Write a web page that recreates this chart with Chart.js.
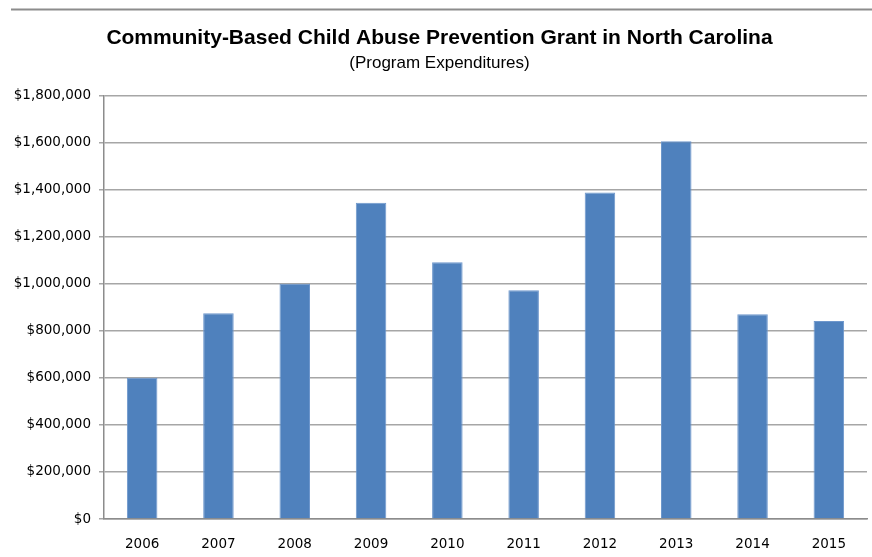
<!DOCTYPE html>
<html>
<head>
<meta charset="utf-8">
<script src="https://cdn.jsdelivr.net/npm/chart.js@4"></script>
<style>
html,body{margin:0;padding:0;background:#fff;}
</style>
</head>
<body>
<canvas id="grantChart" width="872" height="557"></canvas>
<script>
const years = ["2006","2007","2008","2009","2010","2011","2012","2013","2014","2015"];
const expenditures = [600000, 875000, 1000000, 1345000, 1092000, 973000, 1388000, 1606000, 870000, 842000];
const yTicks = [0, 200000, 400000, 600000, 800000, 1000000, 1200000, 1400000, 1600000, 1800000];

const titleText = "Community-Based Child Abuse Prevention Grant in North Carolina";
const subtitleText = "(Program Expenditures)";

// thin rule across the top, like the cropped chart border
const topRule = {
  id: 'topRule',
  beforeDraw(chart){
    const c = chart.ctx;
    c.save();
    c.fillStyle = '#fff';
    c.fillRect(0, 0, chart.width, chart.height);
    c.strokeStyle = '#8c8c8c';
    c.lineWidth = 2;
    c.beginPath();
    c.moveTo(11, 9.5);
    c.lineTo(chart.width, 9.5);
    c.stroke();
    c.restore();
  }
};

function money(v){
  return '$' + v.toLocaleString('en-US');
}

const ctx = document.getElementById("grantChart");

new Chart(ctx,{
  type:'bar',
  data:{
    labels:years,
    datasets:[{
      label:'Program Expenditures',
      data:expenditures,
      backgroundColor:'#4f81bd',
      borderColor:'#6e97cc',
      borderWidth:1,
      barPercentage:0.4,
      categoryPercentage:1.0
    }]
  },
  options:{
    responsive:false,
    animation:false,
    devicePixelRatio:1,
    layout:{padding:{left:12,right:5,top:0,bottom:0}},
    plugins:{
      legend:{display:false},
      tooltip:{enabled:false},
      title:{
        display:true,
        text:titleText,
        color:'#000',
        font:{family:'Liberation Sans',size:21,weight:'bold'},
        padding:{top:26,bottom:2}
      },
      subtitle:{
        display:true,
        text:subtitleText,
        color:'#000',
        font:{family:'Liberation Sans',size:17},
        padding:{top:0,bottom:22}
      }
    },
    scales:{
      x:{
        grid:{display:false,drawTicks:false},
        border:{color:'#8c8c8c',width:1.5},
        ticks:{color:'#000',font:{family:'DejaVu Sans',size:13.5},padding:17},
        afterFit(scale){ scale.height = 38; }
      },
      y:{
        min:0,
        max:1800000,
        afterBuildTicks(scale){ scale.ticks = yTicks.map(v => ({value:v})); },
        grid:{color:'#a6a6a6',lineWidth:1.5,tickLength:5},
        border:{color:'#8c8c8c',width:1.5},
        ticks:{
          color:'#000',
          font:{family:'DejaVu Sans',size:13.5},
          padding:8,
          callback:v => money(v)
        },
        afterFit(scale){ scale.width = 92; }
      }
    }
  },
  plugins:[topRule]
});
</script>
</body>
</html>
